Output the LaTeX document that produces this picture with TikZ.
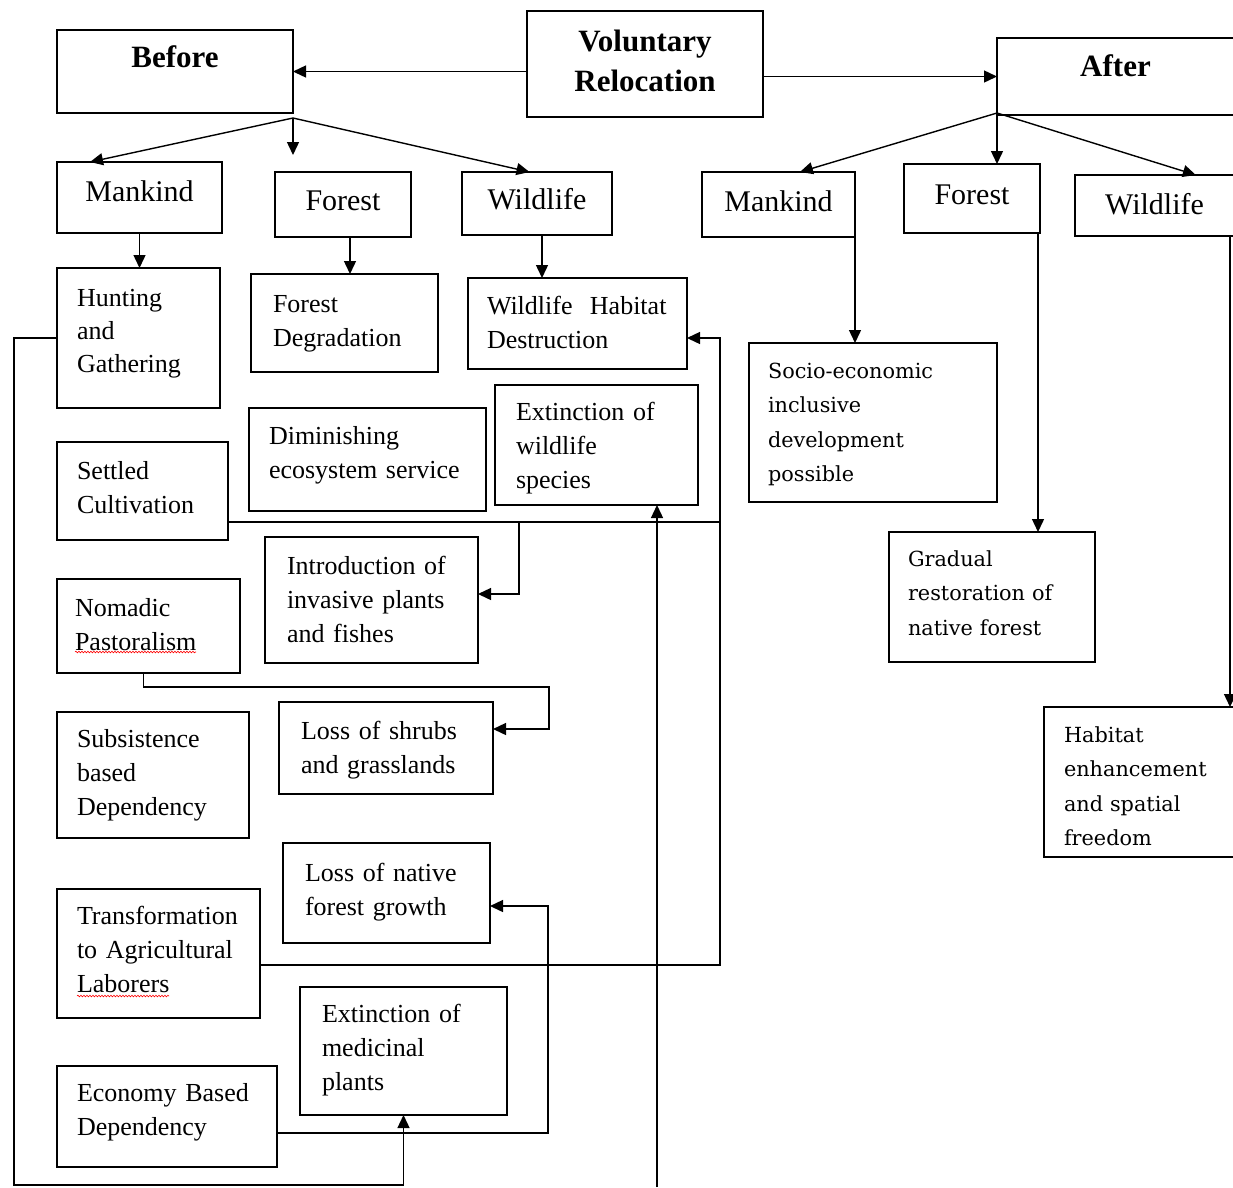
\documentclass[tikz,border=0pt]{standalone}
\usepackage{fontspec}
\setmainfont{Liberation Serif}
\newfontfamily\rfont{DejaVu Serif}
\usetikzlibrary{arrows.meta,calc,decorations.pathmorphing}
\tikzset{
 tb/.style={draw, line width=1.4pt, rectangle, inner sep=0pt, outer sep=0pt, anchor=north west, align=left},
 cb/.style={draw, line width=1.4pt, rectangle, inner sep=0pt, outer sep=0pt, anchor=north west, align=center},
 body/.style={font=\fontsize{26}{34}\selectfont},
 rbody/.style={font=\rfont\fontsize{20.8}{34.5}\selectfont},
 head/.style={font=\bfseries\fontsize{31}{40}\selectfont},
 subh/.style={font=\fontsize{30}{36}\selectfont},
 arr/.style={line width=1.4pt, -{Triangle[length=13pt,width=12pt]}},
 ln/.style={line width=1.4pt},
 squig/.style={red, line width=0.6pt, decorate, decoration={snake,amplitude=0.8pt,segment length=3pt}},
}
\newcommand{\tbox}[9][]{\node[tb,body,#1,text width=#5pt,text height=#6pt,text depth=#7pt] (#2) at (#3,#4) {\leftskip=#8pt #9\par};}
\newcommand{\cbox}[8][]{\node[cb,#1,text width=#5pt,text height=#6pt,text depth=#7pt] (#2) at (#3,#4) {#8};}
\begin{document}
\begin{tikzpicture}[x=1pt,y=-1pt]
\useasboundingbox (0,0) rectangle (1233,1187);
% headings
\cbox[head]{before}{57}{30}{236}{37}{46}{Before}
\cbox[head]{vr}{527}{11}{236}{40}{66}{Voluntary\\Relocation}
\cbox[head]{after}{997}{38}{237}{38}{39}{After}
\cbox[subh]{bmank}{57}{162}{165}{39}{32}{Mankind}
\cbox[subh]{bfor}{275}{172}{136}{38}{27}{Forest}
\cbox[subh]{bwild}{462}{172}{150}{37}{26}{Wildlife}
\cbox[subh]{rmank}{702}{172}{153}{39}{26}{Mankind}
\cbox[subh]{rfor}{904}{164}{136}{40}{29}{Forest}
\cbox[subh]{rwild}{1075}{175}{159}{39}{22}{Wildlife}
% left boxes
\tbox[font=\fontsize{26}{33}\selectfont]{hunt}{57}{268}{163}{38}{102}{20}{Hunting\\and\\Gathering}
\tbox{fdeg}{251}{274}{187}{38}{60}{22}{Forest\\Degradation}
\tbox{whd}{468}{278}{219}{36}{55}{19}{Wildlife\ \ Habitat\\Destruction}
\tbox{dim}{249}{408}{237}{36}{67}{20}{Diminishing\\ecosystem service}
\tbox{ext}{495}{385}{203}{35}{85}{21}{Extinction of\\wildlife\\species}
\tbox{settled}{57}{442}{171}{37}{61}{20}{Settled\\Cultivation}
\tbox{intro}{265}{537}{213}{37}{89}{22}{Introduction of\\invasive plants\\and fishes}
\tbox{nomad}{57}{579}{183}{37}{57}{18}{Nomadic\\Pastoralism}
\tbox{subs}{57}{712}{192}{35}{91}{20}{Subsistence\\based\\Dependency}
\tbox{shrubs}{279}{702}{214}{37}{55}{22}{Loss of shrubs\\and grasslands}
\tbox{nat}{283}{843}{207}{38}{62}{22}{Loss of native\\forest growth}
\tbox{trans}{57}{889}{203}{35}{94}{20}{Transformation\\to Agricultural\\Laborers}
\tbox{medic}{300}{987}{207}{35}{93}{22}{Extinction of\\medicinal\\plants}
\tbox{econ}{57}{1066}{220}{35}{66}{20}{Economy Based\\Dependency}
% right boxes
\tbox[rbody]{socio}{749}{343}{248}{35}{124}{19}{Socio-economic\\inclusive\\development\\possible}
\tbox[rbody]{grad}{889}{532}{206}{34}{96}{19}{Gradual\\restoration of\\native forest}
\tbox[rbody]{hab}{1044}{707}{190}{35}{115}{20}{Habitat\\enhancement\\and spatial\\freedom}
% spell-check squiggles
\draw[squig] ($(nomad.north west)+(18,73)$) -- ++(121,0);
\draw[squig] ($(trans.north west)+(20,107)$) -- ++(92,0);
% top arrows
\draw[arr] (vr.west |- before.east) -- (before.east);
\draw[arr] (vr.east |- after.west) -- (after.west);
% before fan
\coordinate (bf) at ($(before.south east)+(0,5)$);
\coordinate (bfe) at ($(bf)+(0,37)$);
\draw[arr] (bf) -- ($(bmank.north west)!0.2!(bmank.north east)$);
\draw[arr] (bf) -- (bfe);
\draw[arr] (bf) -- ($(bwild.north west)!0.45!(bwild.north east)$);
% after fan
\coordinate (af) at ($(after.south west)+(0,-2)$);
\draw[arr] (af) -- ($(rmank.north west)!0.64!(rmank.north east)$);
\draw[arr] (af) -- (af |- rfor.north);
\draw[arr] (af) -- ($(rwild.north west)!0.76!(rwild.north east)$);
% before children
\draw[arr] (bmank.south) -- (bmank.south |- hunt.north);
\coordinate (bfs) at ($(bfor.south)+(7,0)$);
\draw[arr] (bfs) -- (bfs |- fdeg.north);
\coordinate (bws) at ($(bwild.south)+(5,0)$);
\draw[arr] (bws) -- (bws |- whd.north);
% after children
\draw[arr] (rmank.south east) -- (rmank.south east |- socio.north);
\coordinate (rf) at ($(rfor.south east)+(-2,0)$);
\draw[arr] (rf) -- (rf |- grad.north);
\coordinate (rw) at ($(rwild.south east)+(-4,0)$);
\draw[arr] (rw) -- (rw |- hab.north);
% left long loop
\coordinate (lc) at (14,1185);
\draw[arr] (hunt.west) -| (lc) -| (medic.south);
% bottom to extinction of wildlife
\coordinate (bot) at (657,1187);
\draw[arr] (bot) -- (bot |- ext.south);
% settled / transformation to WHD
\coordinate (rx) at ($(whd.east)+(33,14.5)$);
\coordinate (sc) at ($(settled.south east)+(0,-18)$);
\draw[ln] (sc) -- (sc -| rx);
\draw[arr] ($(trans.east)+(0,11.5)$) -| (rx) -- ($(whd.east)+(0,14.5)$);
\coordinate (ie) at ($(intro.east)+(0,-6)$);
\coordinate (bx) at ($(intro.east)+(41,0)$);
\draw[arr] (sc -| bx) |- (ie);
% nomadic to shrubs
\draw[arr] ($(nomad.south)+(-5,0)$) -- ++(0,14) -| ($(shrubs.east)+(56,-19)$) -- ($(shrubs.east)+(0,-19)$);
% economy to native forest
\draw[arr] ($(econ.south east)+(0,-34)$) -| ($(nat.east)+(58,13)$) -- ($(nat.east)+(0,13)$);
\end{tikzpicture}
\end{document}
